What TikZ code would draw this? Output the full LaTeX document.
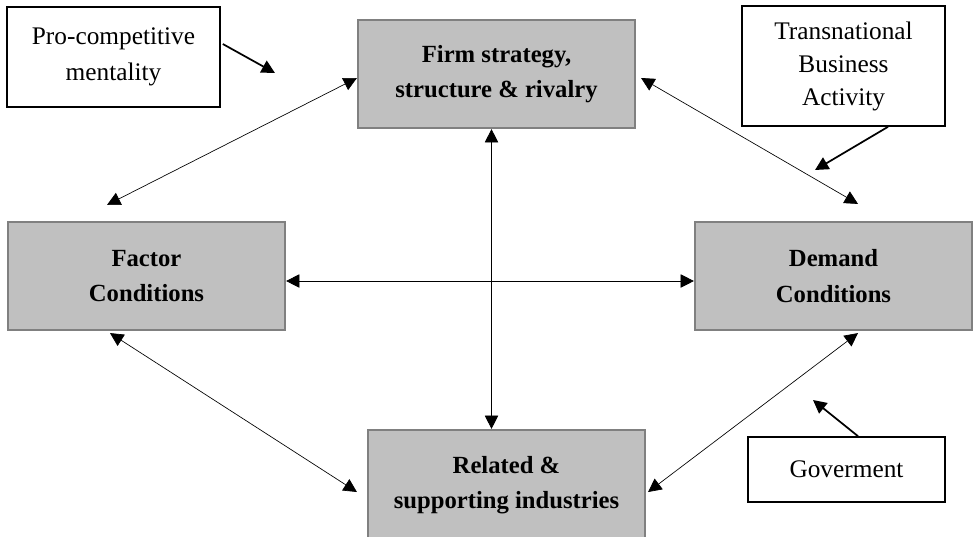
\documentclass[tikz,border=0pt]{standalone}
\usepackage{fontspec}
\setmainfont{Liberation Serif}
\usepackage{xcolor}
\definecolor{boxgray}{RGB}{192,192,192}
\definecolor{edgegray}{RGB}{128,128,128}
\usepackage{tikz}
\usetikzlibrary{
  arrows.meta,
  positioning,
  calc
}

\begin{document}
\begin{tikzpicture}[x=0.75pt, y=-0.75pt,
  force/.style={draw=edgegray, line width=1.6pt, fill=boxgray, align=center,
    minimum width=207.75pt, minimum height=81pt, inner sep=0pt,
    font=\fontsize{18.5}{26.5}\selectfont\bfseries},
  factorbox/.style={draw=black, line width=1.2pt, fill=white, align=center,
    inner sep=0pt, font=\fontsize{19}{27.5}\selectfont},
  link/.style={line width=0.5pt, {Triangle[length=10pt,width=10pt]}-{Triangle[length=10pt,width=10pt]}},
  push/.style={line width=1.3pt, -{Triangle[length=10pt,width=10pt]}}
]
  \useasboundingbox (0,0) rectangle (973,536);

  % Four determinants
  \node[force] (firm) at (496.5,74) {Firm strategy,\\structure \& rivalry};
  \node[force] (factor) at (146.5,276) {Factor\\Conditions};
  \node[force] (demand) at (833.5,276) {Demand\\Conditions};
  \node[force, minimum height=82.5pt] (related) at (506.5,485) {Related \&\\supporting industries};

  % Outside influences
  \node[factorbox, minimum width=159.75pt, minimum height=75pt] (procomp) at (113.5,57) {Pro-competitive\\mentality};
  \node[factorbox, minimum width=152.25pt, minimum height=90pt,
    font=\fontsize{19}{24.75}\selectfont] (trans) at (843.5,66) {Transnational\\Business\\Activity};
  \node[factorbox, minimum width=147.75pt, minimum height=48.75pt] (gov) at (846.5,469.5) {Goverment};

  % Links between determinants
  \draw[link] ($(firm.west)+(0,4)$) -- ($(factor.north)+(-39.5,-16)$);
  \draw[link] ($(firm.east)+(5,4)$) -- ($(demand.north)+(24.5,-17)$);
  \draw[link] ($(firm.south)+(-5,0)$) -- ($(related.north)+(-15,0)$);
  \draw[link] ($(factor.east)+(0,5)$) -- ($(demand.west)+(0,5)$);
  \draw[link] ($(factor.south)+(-36.5,2)$) -- ($(related.west)+(-10,7)$);
  \draw[link] ($(demand.south)+(24.5,2)$) -- ($(related.east)+(2,7)$);

  % Influence arrows
  \coordinate (procompend) at (275,73);
  \coordinate (transend) at (815,170);
  \coordinate (govend) at (813,400);
  \draw[push] ($(procomp.east)+(2,-13)$) -- (procompend);
  \draw[push] ($(trans.south)+(44.5,0)$) -- (transend);
  \draw[push] ($(gov.north)+(11.5,0)$) -- (govend);
\end{tikzpicture}
\end{document}
